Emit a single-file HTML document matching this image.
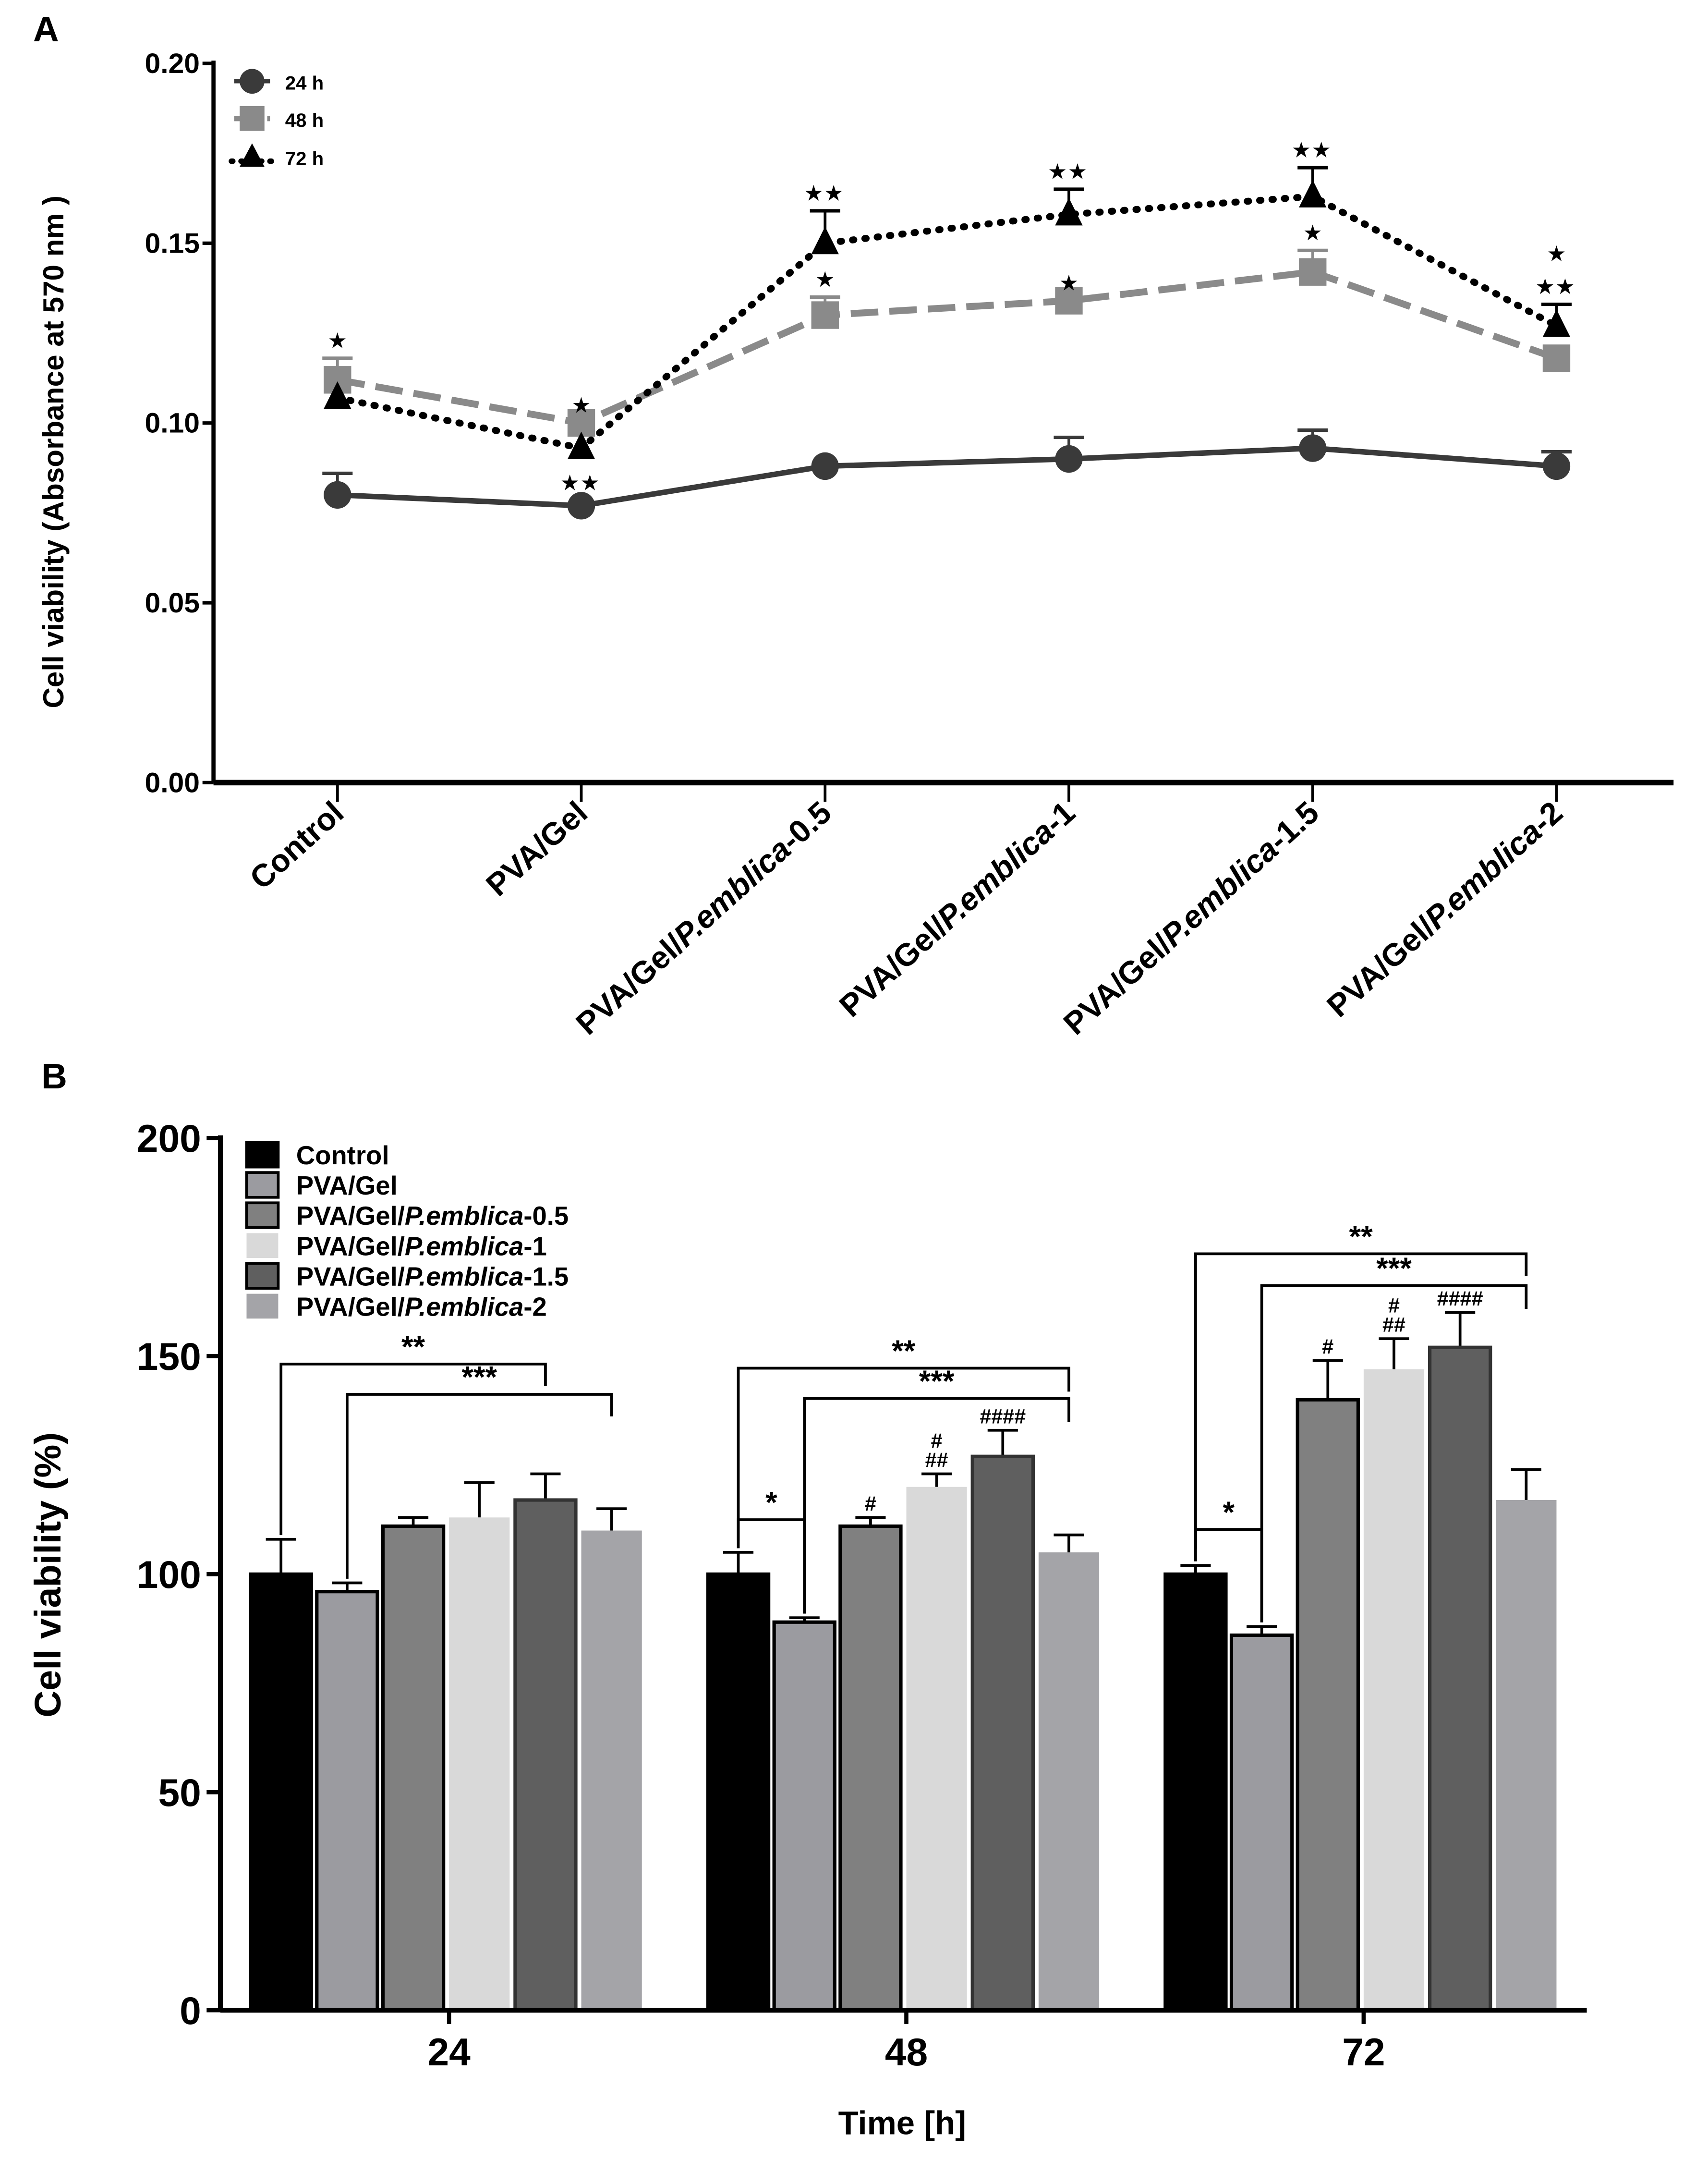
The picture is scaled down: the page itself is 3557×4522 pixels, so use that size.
<!DOCTYPE html>
<html><head><meta charset="utf-8"><style>
html,body{margin:0;padding:0;background:#fff}
svg{display:block}
text{font-family:"Liberation Sans",sans-serif;font-weight:bold}
</style></head><body>
<svg id="fig" width="3557" height="4522" viewBox="0 0 1240 1576.4" preserveAspectRatio="none" xmlns="http://www.w3.org/2000/svg">
<g id="pa"></g>
<g id="pb"></g>
</svg>
<script>
// ---------- Panel A data ----------
const catsA = ["Control","PVA/Gel","PVA/Gel/P.emblica-0.5","PVA/Gel/P.emblica-1","PVA/Gel/P.emblica-1.5","PVA/Gel/P.emblica-2"];
const a24 = [0.080,0.077,0.088,0.090,0.093,0.088];
const a24err = [0.006,0.000,0.000,0.006,0.005,0.004];
const a48 = [0.112,0.100,0.130,0.134,0.142,0.118];
const a48err = [0.006,0.000,0.005,0.000,0.006,0.000];
const a72 = [0.107,0.093,0.150,0.158,0.163,0.127];
const a72err = [0.000,0.000,0.009,0.007,0.008,0.006];
const a48stars = ["★","★","★","★","★",""];
const a72stars = ["","★★","★★","★★","★★","★★"];
const ticksA = [0,0.05,0.10,0.15,0.20];
const tickLabA = ["0.00","0.05","0.10","0.15","0.20"];
// ---------- Panel B data ----------
const groupsB = ["24","48","72"];
const seriesB = ["Control","PVA/Gel","PVA/Gel/P.emblica-0.5","PVA/Gel/P.emblica-1","PVA/Gel/P.emblica-1.5","PVA/Gel/P.emblica-2"];
const b24 = [100,96,111,113,117,110];
const b48 = [100,89,111,120,127,105];
const b72 = [100,86,140,147,152,117];
const b24err = [8,2,2,8,6,5];
const b48err = [5,1,2,3,6,4];
const b72err = [2,2,9,7,8,7];
const hashB48 = ["","","#","#\n##","####",""];
const hashB72 = ["","","#","#\n##","####",""];
const ticksB = [0,50,100,150,200];

const NS="http://www.w3.org/2000/svg";
function mk(parent,tag,attrs,txt){const e=document.createElementNS(NS,tag);for(const k in attrs)e.setAttribute(k,attrs[k]);if(txt!==undefined)e.textContent=txt;parent.appendChild(e);return e;}

// ===== Panel A =====
const pa=document.getElementById('pa');
const ax0=155, ax1=1215, ay0=568, ay1=46;
const yA=v=>ay0-(v/0.20)*(ay0-ay1);
const xA=i=>245+i*177;
let t=mk(pa,'text',{x:24,y:30,'font-size':26,fill:'#000'},'A');


let l=mk(pa,'line',{x1:ax0,y1:ay1-2,x2:ax0,y2:ay0,stroke:'#000','stroke-width':3});

l=mk(pa,'line',{x1:ax0,y1:ay0,x2:ax1,y2:ay0,stroke:'#000','stroke-width':4});

ticksA.forEach((v,i)=>{
  mk(pa,'line',{x1:ax0-8,y1:yA(v),x2:ax0,y2:yA(v),stroke:'#000','stroke-width':2.5});
  const tt=mk(pa,'text',{x:ax0-10,y:yA(v)+7,'font-size':20.5,'text-anchor':'end'},tickLabA[i]);
  
});
t=mk(pa,'text',{x:0,y:0,'font-size':21,'text-anchor':'middle',transform:'translate(46,328) rotate(-90)'},'Cell viability (Absorbance at 570 nm )');

catsA.forEach((c,i)=>{
  const x=xA(i);
  mk(pa,'line',{x1:x,y1:ay0,x2:x,y2:ay0+14,stroke:'#000','stroke-width':2});
  const tt=mk(pa,'text',{'font-size':23,'text-anchor':'end',transform:`translate(${x+6},${ay0+24}) rotate(-42)`});
  const m=c.match(/^(PVA\/Gel\/)(P\.emblica)(-.*)$/);
  if(m){mk(tt,'tspan',{},m[1]);mk(tt,'tspan',{'font-style':'italic'},m[2]);mk(tt,'tspan',{},m[3]);}else tt.textContent=c;
  
});
function seriesA(vals,err,color,dash,width,marker,name){
  const g=mk(pa,'g',{});
  
  vals.forEach((v,i)=>{ if(err[i]>0){const x=xA(i);
    mk(g,'line',{x1:x,y1:yA(v),x2:x,y2:yA(v+err[i]),stroke:color,'stroke-width':2});
    mk(g,'line',{x1:x-11,y1:yA(v+err[i]),x2:x+11,y2:yA(v+err[i]),stroke:color,'stroke-width':2.5});}});
  mk(g,'polyline',{points:vals.map((v,i)=>xA(i)+','+yA(v)).join(' '),fill:'none',stroke:color,'stroke-width':width,'stroke-dasharray':dash,'stroke-linecap':dash==='1 8'?'round':'butt'});
  vals.forEach((v,i)=>{const x=xA(i),y=yA(v);let m;
    if(marker==='c')m=mk(g,'circle',{cx:x,cy:y,r:10,fill:color});
    else if(marker==='s')m=mk(g,'rect',{x:x-10,y:y-10,width:20,height:20,fill:color});
    else m=mk(g,'polygon',{points:`${x},${y-12} ${x-10},${y+8} ${x+10},${y+8}`,fill:color});
    });
}
seriesA(a24,a24err,'#3a3a3a','',4,'c','series-24h');
seriesA(a48,a48err,'#8a8a8a','20 8',5,'s','series-48h');
seriesA(a72,a72err,'#000','1 8',5,'t','series-72h');
a48.forEach((v,i)=>{if(a48stars[i]){const tt=mk(pa,'text',{x:xA(i),y:yA(v+a48err[i])-8,'font-size':14,'text-anchor':'middle'},a48stars[i]);}});
a72.forEach((v,i)=>{if(!a72stars[i]) return; let y=yA(v+a72err[i])-8; if(i===1)y=yA(v)+30;
 const tt=mk(pa,'text',{x:xA(i),y:y,'font-size':14,'text-anchor':'middle','letter-spacing':2},a72stars[i]);});
t=mk(pa,'text',{x:xA(5),y:yA(a72[5]+a72err[5])-32,'font-size':14,'text-anchor':'middle'},'★');

// legend A
const legA=mk(pa,'g',{});
mk(legA,'line',{x1:170,y1:59,x2:196,y2:59,stroke:'#3a3a3a','stroke-width':3});
mk(legA,'circle',{cx:183,cy:59,r:9,fill:'#3a3a3a'});
mk(legA,'text',{x:207,y:65,'font-size':14},'24 h');
mk(legA,'line',{x1:170,y1:86,x2:196,y2:86,stroke:'#8a8a8a','stroke-width':4,'stroke-dasharray':'8 4'});
mk(legA,'rect',{x:174,y:77,width:18,height:18,fill:'#8a8a8a'});
mk(legA,'text',{x:207,y:92,'font-size':14},'48 h');
mk(legA,'line',{x1:168,y1:117,x2:198,y2:117,stroke:'#000','stroke-width':4,'stroke-dasharray':'1 6','stroke-linecap':'round'});
mk(legA,'polygon',{points:'183,104 174,121 192,121',fill:'#000'});
mk(legA,'text',{x:207,y:120,'font-size':14},'72 h');

// ===== Panel B =====
const pb=document.getElementById('pb');
const bx0=160, bx1=1152, by0=1459, by1=826;
const yB=v=>by0-(v/200)*(by0-by1);
const groupStart=[182,514,846], pitch=48, bw=44;
const xB=(g,s)=>groupStart[g]+s*pitch;
const colsB=['#000','#9b9ba0','#808080','#d9d9d9','#5f5f5f','#a4a4a8'];
const bordB=['#000','#000','#000','none','#333','none'];
t=mk(pb,'text',{x:30,y:790,'font-size':26},'B');
const dataB=[b24,b48,b72], errB=[b24err,b48err,b72err];
dataB.forEach((vals,g)=>{vals.forEach((v,s)=>{
  const x=xB(g,s), e=errB[g][s];
  const cx=x+bw/2;
  mk(pb,'line',{x1:cx,y1:yB(v),x2:cx,y2:yB(v+e),stroke:'#000','stroke-width':2});
  mk(pb,'line',{x1:cx-11,y1:yB(v+e),x2:cx+11,y2:yB(v+e),stroke:'#000','stroke-width':2});
  const r=mk(pb,'rect',{x:x,y:yB(v),width:bw,height:yB(0)-yB(v),fill:colsB[s],stroke:bordB[s],'stroke-width':bordB[s]==='none'?0:2.5});
  
});});
l=mk(pb,'line',{x1:bx0,y1:by1-2,x2:bx0,y2:by0,stroke:'#000','stroke-width':3.5});

l=mk(pb,'line',{x1:bx0,y1:by0,x2:bx1,y2:by0,stroke:'#000','stroke-width':3.5});

ticksB.forEach(v=>{mk(pb,'line',{x1:bx0-10,y1:yB(v),x2:bx0,y2:yB(v),stroke:'#000','stroke-width':3});
  const tt=mk(pb,'text',{x:bx0-14,y:yB(v)+10,'font-size':28,'text-anchor':'end'},String(v));});
groupsB.forEach((gname,g)=>{const cx=groupStart[g]+144;
  mk(pb,'line',{x1:cx,y1:by0,x2:cx,y2:by0+10,stroke:'#000','stroke-width':3});
  const tt=mk(pb,'text',{x:cx,y:by0+40,'font-size':28,'text-anchor':'middle'},gname);});
t=mk(pb,'text',{x:655,y:1549,'font-size':24,'text-anchor':'middle'},'Time [h]');
t=mk(pb,'text',{'font-size':27,'text-anchor':'middle',transform:'translate(44,1143) rotate(-90)'},'Cell viability (%)');
// brackets
function bracket(g,s1,s2,ytop,label,yl1,yl2){
  const x1=xB(g,s1)+bw/2, x2=xB(g,s2)+bw/2;
  const gg=mk(pb,'g',{});
  mk(gg,'polyline',{points:`${x1},${yl1} ${x1},${ytop} ${x2},${ytop} ${x2},${yl2}`,fill:'none',stroke:'#000','stroke-width':2});
  mk(gg,'text',{x:(x1+x2)/2,y:ytop-5,'font-size':22,'text-anchor':'middle'},label);
}
bracket(0,0,4,990,'**',yB(b24[0]+b24err[0])-3,1006);
bracket(0,1,5,1012,'***',yB(b24[1]+b24err[1])-3,1028);
bracket(1,0,5,993,'**',yB(b48[0]+b48err[0])-3,1010);
bracket(1,1,5,1015,'***',yB(b48[1]+b48err[1])-3,1032);
bracket(1,0,1,1103,'*',1118,yB(b48[1]+b48err[1])-3);
bracket(2,0,5,910,'**',yB(b72[0]+b72err[0])-3,926);
bracket(2,1,5,933,'***',yB(b72[1]+b72err[1])-3,950);
bracket(2,0,1,1110,'*',1124,yB(b72[1]+b72err[1])-3);
[[1,hashB48],[2,hashB72]].forEach(([g,arr])=>{arr.forEach((h,s)=>{if(!h)return;
  const cx=xB(g,s)+bw/2, top=yB(dataB[g][s]+errB[g][s])-5;
  const lines=h.split('\n');
  lines.forEach((ln,k)=>{const tt=mk(pb,'text',{x:cx,y:top-(lines.length-1-k)*14,'font-size':15,'text-anchor':'middle','font-weight':'normal'},ln);
    });});});
// legend B
const legB=mk(pb,'g',{});
seriesB.forEach((n,i)=>{const y=829+i*22;
  mk(legB,'rect',{x:179,y:y,width:23,height:18,fill:colsB[i],stroke:bordB[i]==='none'?'none':'#000','stroke-width':2});
  const tt=mk(legB,'text',{x:215,y:y+16,'font-size':19});
  const m=n.match(/^(PVA\/Gel\/)(P\.emblica)(-.*)$/);
  if(m){mk(tt,'tspan',{},m[1]);mk(tt,'tspan',{'font-style':'italic'},m[2]);mk(tt,'tspan',{},m[3]);}else tt.textContent=n;
  
});
</script>
</body></html>
